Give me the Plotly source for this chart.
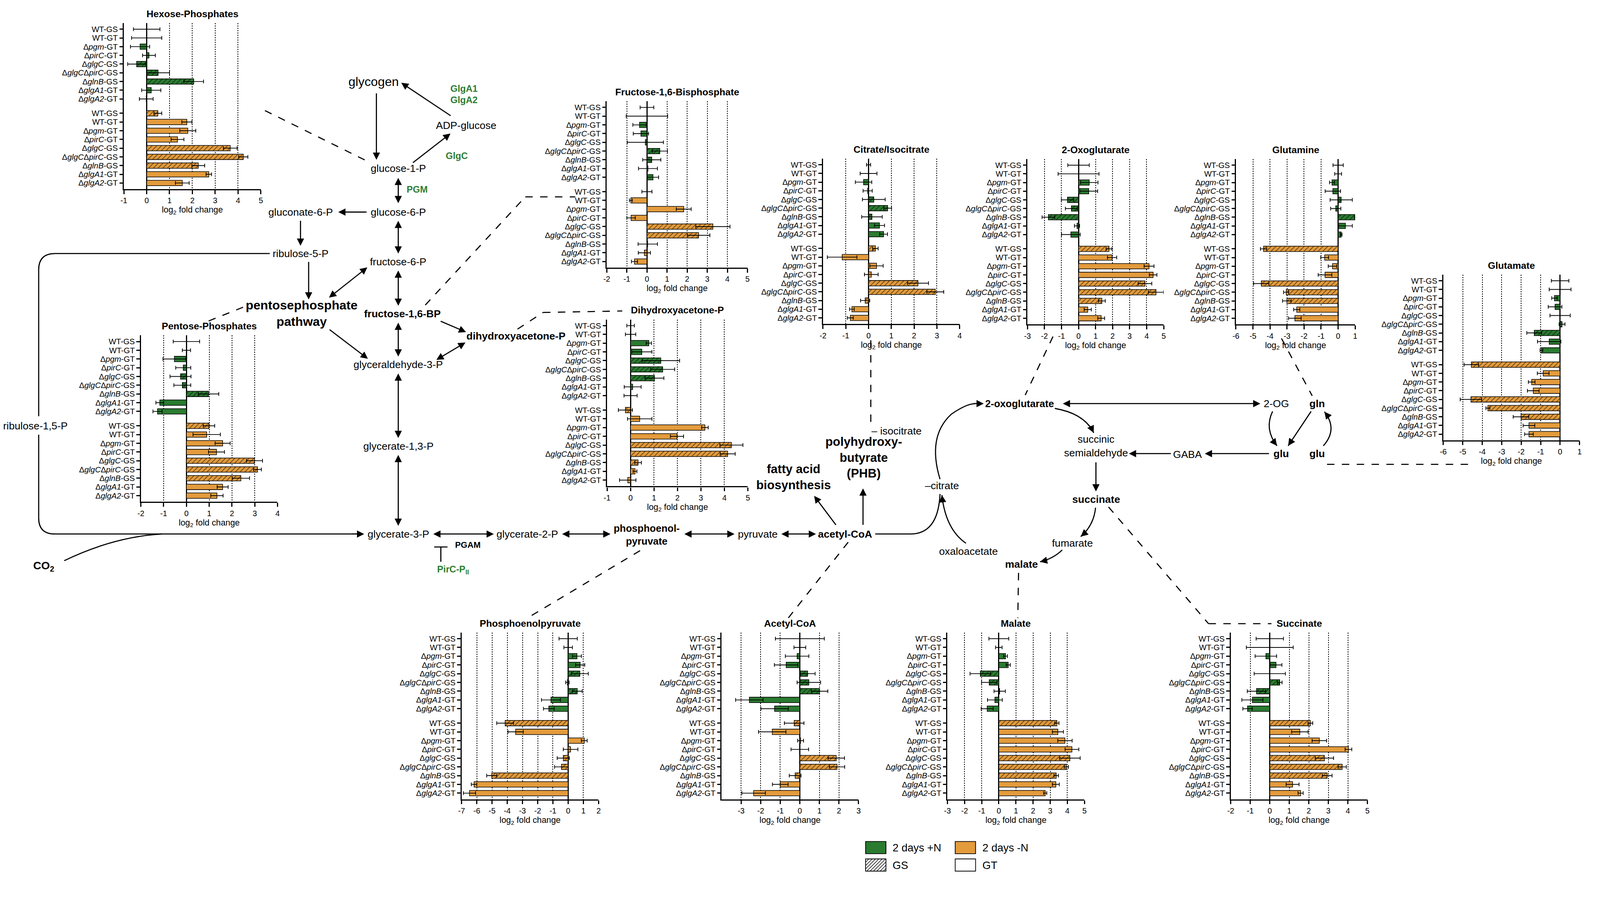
import plotly.graph_objects as go
import math

# ---------------- data ----------------
labels = ["WT-GS", "WT-GT", "Δ<i>pgm</i>-GT", "Δ<i>pirC</i>-GT", "Δ<i>glgC</i>-GS",
          "Δ<i>glgC</i>Δ<i>pirC</i>-GS", "Δ<i>glnB</i>-GS", "Δ<i>glgA1</i>-GT", "Δ<i>glgA2</i>-GT"]
hatch = ["/", "", "", "", "/", "/", "/", "", ""]

hexose_pos = [0, 0, -0.29, 0.10, -0.44, 0.50, 2.06, 0.20, -0.02]
hexose_pos_err = [0.58, 0.66, 0.42, 0.28, 0.39, 0.50, 0.43, 0.42, 0.30]
hexose_neg = [0.49, 1.76, 1.80, 1.35, 3.66, 4.23, 2.26, 2.72, 1.56]
hexose_neg_err = [0.17, 0.22, 0.35, 0.28, 0.30, 0.20, 0.28, 0.12, 0.30]

pentose_pos = [0, 0, -0.53, -0.14, -0.26, -0.18, 0.97, -1.17, -1.27]
pentose_pos_err = [0.58, 0.18, 0.50, 0.33, 0.46, 0.37, 0.45, 0.17, 0.20]
pentose_neg = [0.99, 0.89, 1.59, 1.32, 2.99, 3.12, 2.39, 1.59, 1.34]
pentose_neg_err = [0.25, 0.60, 0.33, 0.35, 0.35, 0.17, 0.38, 0.24, 0.27]

f16bp_pos = [0, 0, -0.37, -0.30, -0.08, 0.64, 0.24, 0.05, 0.30]
f16bp_pos_err = [0.34, 1.03, 0.33, 0.38, 0.90, 0.38, 0.45, 0.47, 0.28]
f16bp_neg = [0, -0.80, 1.83, -0.79, 3.28, 2.57, 0.04, -0.13, -0.62]
f16bp_neg_err = [0.25, 0.07, 0.37, 0.21, 0.85, 0.56, 0.48, 0.30, 0.15]

dhap_pos = [0, 0, 0.78, 0.48, 1.29, 1.37, 1.02, 0.09, 0]
dhap_pos_err = [0.16, 0.22, 0.11, 0.43, 0.80, 0.51, 0.40, 0.36, 0.28]
dhap_neg = [-0.22, 0.39, 3.17, 1.98, 4.30, 4.14, 0.32, 0.19, -0.12]
dhap_neg_err = [0.30, 0.52, 0.14, 0.28, 0.49, 0.32, 0.14, 0.08, 0.35]

citrate_pos = [0, 0, -0.22, -0.04, 0.23, 0.84, 0.15, 0.48, 0.66]
citrate_pos_err = [0.09, 0.37, 0.36, 0.20, 0.50, 0.17, 0.45, 0.22, 0.17]
citrate_neg = [0.30, -1.16, 0.35, 0.12, 2.17, 2.93, -0.15, -0.73, -0.80]
citrate_neg_err = [0.12, 0.65, 0.29, 0.30, 0.46, 0.37, 0.20, 0.10, 0.13]

oxo_pos = [0, 0, 0.63, 0.60, -0.65, -0.42, -1.77, -0.09, -0.45]
oxo_pos_err = [0.63, 1.20, 0.51, 0.52, 0.36, 0.35, 0.37, 0.15, 0.55]
oxo_neg = [1.79, 1.97, 4.14, 4.38, 3.90, 4.55, 1.37, 0.54, 1.33]
oxo_neg_err = [0.17, 0.27, 0.29, 0.22, 0.40, 0.45, 0.20, 0.21, 0.20]

gln_pos = [0, 0, -0.36, -0.31, 0.18, -0.14, 1.36, 0.43, 0.18]
gln_pos_err = [0.30, 0.20, 0.14, 0.45, 0.65, 0.30, 0.40, 0.40, 0.05]
gln_neg = [-4.38, -0.79, -0.33, -0.77, -4.51, -3.05, -3.01, -2.43, -2.54]
gln_neg_err = [0.18, 0.23, 0.25, 0.40, 0.45, 0.15, 0.25, 0.18, 0.37]

glu_pos = [0, 0, -0.29, -0.26, 0, 0.10, -1.33, -0.56, -0.96]
glu_pos_err = [0.45, 0.56, 0.14, 0.35, 0.52, 0.15, 0.38, 0.60, 0.07]
glu_neg = [-4.56, -0.87, -1.46, -1.38, -4.58, -3.71, -2.01, -1.60, -1.60]
glu_neg_err = [0.37, 0.30, 0.17, 0.30, 0.55, 0.10, 0.40, 0.30, 0.22]

pep_pos = [0, 0, 0.58, 0.79, 0.77, -0.05, 0.60, -1.13, -1.27]
pep_pos_err = [0.60, 0.28, 0.29, 0.30, 0.55, 0.11, 0.32, 0.62, 0.35]
pep_neg = [-4.14, -3.45, 1.06, 0.16, -0.32, -0.44, -5.02, -6.18, -6.48]
pep_neg_err = [0.55, 0.50, 0.19, 0.48, 0.40, 0.45, 0.33, 0.18, 0.40]

accoa_pos = [0, 0, -0.14, -0.70, 0.40, 0.46, 1.01, -2.58, -1.29]
accoa_pos_err = [1.25, 0.30, 0.60, 0.60, 0.38, 0.60, 0.42, 0.70, 0.70]
accoa_neg = [-0.29, -1.41, 0.04, 0, 1.86, 1.90, -0.24, -1.00, -2.36]
accoa_neg_err = [0.50, 0.70, 0.15, 0.45, 0.42, 0.39, 0.30, 0.40, 0.60]

malate_pos = [0, 0, 0.39, 0.55, -1.08, -0.56, 0.05, -0.23, -0.68]
malate_pos_err = [0.58, 0.19, 0.11, 0.12, 0.60, 0.45, 0.33, 0.43, 0.35]
malate_neg = [3.39, 3.45, 3.86, 4.27, 4.15, 3.94, 3.35, 3.33, 2.71]
malate_neg_err = [0.12, 0.32, 0.42, 0.40, 0.60, 0.12, 0.13, 0.20, 0.09]

succ_pos = [0, 0, -0.20, 0.32, 0, 0.51, -0.68, -0.89, -1.14]
succ_pos_err = [0.70, 1.20, 0.55, 0.30, 0.80, 0.12, 0.47, 0.54, 0.24]
succ_neg = [2.08, 1.54, 2.54, 4.03, 2.80, 3.71, 2.94, 1.17, 1.58]
succ_neg_err = [0.12, 0.42, 0.37, 0.17, 0.47, 0.21, 0.25, 0.33, 0.13]

# ---------------- styles / layout ----------------
W, H = 4290, 2352          # design frame (reference pixels)
S = 0.948                  # rendered size factor
FW, FH = round(W * S), round(H * S)
FONT = "Liberation Sans, Arial, sans-serif"
GREEN = "#2a7b30"
ORANGE = "#e39b3c"
TXTGREEN = "#2e7d32"
GAP = 9.65

def PX(x):
    return x / W

def PY(y):
    return 1 - y / H

def s(v):
    return v * S

# title, data, box (left,right,top,bottom px), range, tick range
panels = [
    ("Hexose-Phosphates", hexose_pos, hexose_pos_err, hexose_neg, hexose_neg_err, (326, 696, 54, 502), (-1, 5), (-1, 5)),
    ("Pentose-Phosphates", pentose_pos, pentose_pos_err, pentose_neg, pentose_neg_err, (372, 741, 897, 1346), (-2, 4), (-2, 4)),
    ("Fructose-1,6-Bisphosphate", f16bp_pos, f16bp_pos_err, f16bp_neg, f16bp_neg_err, (1630, 2010, 265, 714), (-2, 5), (-2, 5)),
    ("Dihydroxyacetone-P", dhap_pos, dhap_pos_err, dhap_neg, dhap_neg_err, (1631, 2011, 854, 1304), (-1, 5), (-1, 5)),
    ("Citrate/Isocitrate", citrate_pos, citrate_pos_err, citrate_neg, citrate_neg_err, (2214, 2583, 420, 866), (-2, 4), (-2, 4)),
    ("2-Oxoglutarate", oxo_pos, oxo_pos_err, oxo_neg, oxo_neg_err, (2766, 3134, 421, 867), (-3, 5), (-3, 5)),
    ("Glutamine", gln_pos, gln_pos_err, gln_neg, gln_neg_err, (3329, 3651, 421, 867), (-6, 1), (-6, 1)),
    ("Glutamate", glu_pos, glu_pos_err, glu_neg, glu_neg_err, (3889, 4257, 733, 1180), (-6, 1), (-6, 1)),
    ("Phosphoenolpyruvate", pep_pos, pep_pos_err, pep_neg, pep_neg_err, (1238, 1608, 1699, 2149), (-7, 2), (-7, 2)),
    ("Acetyl-CoA", accoa_pos, accoa_pos_err, accoa_neg, accoa_neg_err, (1940, 2310, 1699, 2149), (-4, 3), (-3, 3)),
    ("Malate", malate_pos, malate_pos_err, malate_neg, malate_neg_err, (2550, 2920, 1699, 2149), (-3, 5), (-3, 5)),
    ("Succinate", succ_pos, succ_pos_err, succ_neg, succ_neg_err, (3315, 3684, 1699, 2149), (-2, 5), (-2, 5)),
]

ypos_g = [float(k) for k in range(len(labels))]
ypos_o = [k + GAP for k in range(len(labels))]

fig = go.Figure()
layout = {}
annotations = []
shapes = []

for i, (title, gv, ge, ov, oe, box, rng, trng) in enumerate(panels, start=1):
    xa = "x" if i == 1 else f"x{i}"
    ya = "y" if i == 1 else f"y{i}"
    for vals, errs, ypos, col in ((gv, ge, ypos_g, GREEN), (ov, oe, ypos_o, ORANGE)):
        fig.add_trace(go.Bar(
            x=vals, y=ypos, orientation="h", width=0.62,
            marker=dict(color=col, line=dict(color="black", width=s(1.6)),
                        pattern=dict(shape=hatch, fillmode="overlay", fgcolor="black",
                                     size=s(9), solidity=0.25)),
            error_x=dict(type="data", array=errs, color="black", thickness=s(2), width=s(5)),
            xaxis=xa, yaxis=ya, cliponaxis=False, showlegend=False, hoverinfo="skip"))
    l, r, t, b = box
    tv = list(range(trng[0], trng[1] + 1))
    layout["xaxis" if i == 1 else f"xaxis{i}"] = dict(
        domain=[PX(l), PX(r)], range=list(rng), anchor=ya,
        tickmode="array", tickvals=tv, ticktext=[str(v) for v in tv],
        showline=True, linecolor="black", linewidth=s(3.5),
        ticks="outside", ticklen=s(10), tickwidth=s(3), tickcolor="black",
        showgrid=True, gridcolor="black", gridwidth=s(2.5), griddash="dot",
        zeroline=True, zerolinecolor="black", zerolinewidth=s(3),
        tickfont=dict(family=FONT, size=s(21), color="black"),
        title=dict(text="log<sub>2</sub> fold change", font=dict(family=FONT, size=s(23), color="black"), standoff=s(4)),
        automargin=False, fixedrange=True)
    layout["yaxis" if i == 1 else f"yaxis{i}"] = dict(
        domain=[PY(b), PY(t)], range=[ypos_o[-1] + 0.7, -0.7], anchor=xa,
        tickmode="array", tickvals=ypos_g + ypos_o, ticktext=labels + labels,
        showline=True, linecolor="black", linewidth=s(3),
        ticks="outside", ticklen=s(9), tickwidth=s(3), tickcolor="black",
        showgrid=False, zeroline=False,
        tickfont=dict(family=FONT, size=s(21.5), color="black"),
        automargin=False, fixedrange=True)
    annotations.append(dict(x=PX((l + r) / 2), y=PY(t - 25), xref="paper", yref="paper",
                            text=f"<b>{title}</b>", showarrow=False,
                            font=dict(family=FONT, size=s(26), color="black"),
                            xanchor="center", yanchor="middle"))

# ---------------- pathway diagram helpers ----------------
def text(x, y, txt, size=28, bold=False, color="black", anchor="center"):
    if bold:
        txt = f"<b>{txt}</b>"
    annotations.append(dict(x=PX(x), y=PY(y), xref="paper", yref="paper", text=txt,
                            showarrow=False, font=dict(family=FONT, size=s(size), color=color),
                            xanchor=anchor, yanchor="middle", align="center"))

def arrow(x0, y0, x1, y1, double=False):
    annotations.append(dict(x=PX(x1), y=PY(y1), xref="paper", yref="paper",
                            ax=s(x0 - x1), ay=s(y0 - y1), axref="pixel", ayref="pixel",
                            text="", showarrow=True, arrowhead=2, arrowsize=1.3,
                            arrowwidth=s(3), arrowcolor="black",
                            arrowside="end+start" if double else "end",
                            startarrowhead=2, startarrowsize=1.3,
                            standoff=0, startstandoff=0))

def line(x0, y0, x1, y1, dash=None, width=3):
    shapes.append(dict(type="line", xref="paper", yref="paper",
                       x0=PX(x0), y0=PY(y0), x1=PX(x1), y1=PY(y1),
                       line=dict(color="black", width=s(width), dash=dash)))

DASH = f"{s(20):.0f}px,{s(20):.0f}px"

def dashed(points):
    for (a, b), (c, d) in zip(points[:-1], points[1:]):
        line(a, b, c, d, dash=DASH, width=3)

def path(cmds, width=3):
    parts = []
    for c in cmds:
        op = c[0]
        coords = " ".join(f"{PX(x):.5f},{PY(y):.5f}" for x, y in c[1:])
        parts.append(f"{op} {coords}")
    shapes.append(dict(type="path", xref="paper", yref="paper", path=" ".join(parts),
                       line=dict(color="black", width=s(width))))

def curve_arrow(p0, c, p1, head=True):
    path([("M", p0), ("Q", c, p1)])
    if head:
        dx, dy = p1[0] - c[0], p1[1] - c[1]
        n = math.hypot(dx, dy)
        arrow(p1[0] - 22 * dx / n, p1[1] - 22 * dy / n, p1[0], p1[1])

# ---------------- glycolysis / glycogen ----------------
text(1000, 212, "glycogen", 34)
text(1245, 231, "GlgA1", 25, True, TXTGREEN)
text(1245, 262, "GlgA2", 25, True, TXTGREEN)
text(1250, 330, "ADP-glucose", 28)
text(1225, 412, "GlgC", 25, True, TXTGREEN)
text(1067, 446, "glucose-1-P", 28)
text(1118, 503, "PGM", 25, True, TXTGREEN)
text(1067, 564, "glucose-6-P", 28)
text(803, 564, "gluconate-6-P", 28)
text(803, 676, "ribulose-5-P", 28)
text(1067, 698, "fructose-6-P", 28)
text(806, 837, "pentosephosphate<br>pathway", 34, True)
text(1078, 839, "fructose-1,6-BP", 28, True)
text(1385, 899, "dihydroxyacetone-P", 28, True)
text(1067, 976, "glyceraldehyde-3-P", 28)
text(1067, 1196, "glycerate-1,3-P", 28)
text(87, 1141, "ribulose-1,5-P", 28)
text(1067, 1433, "glycerate-3-P", 28)
text(1255, 1462, "PGAM", 23, True)
text(1215, 1530, "PirC-P<sub>II</sub>", 25, True, TXTGREEN)
text(1416, 1433, "glycerate-2-P", 28)
text(1738, 1435, "phosphoenol-<br>pyruvate", 27, True)
text(2038, 1433, "pyruvate", 28)
text(2274, 1433, "acetyl-CoA", 28, True)
text(2134, 1279, "fatty acid<br>biosynthesis", 33, True)
text(2324, 1227, "polyhydroxy-<br>butyrate<br>(PHB)", 33, True)
text(110, 1520, "CO<sub>2</sub>", 30, True)

arrow(1008, 242, 1008, 423)
arrow(1210, 305, 1075, 215)
arrow(1105, 432, 1208, 352)
arrow(1067, 470, 1067, 540, True)
arrow(983, 564, 905, 564)
arrow(803, 586, 803, 655)
arrow(825, 697, 825, 800)
arrow(1067, 586, 1067, 676, True)
arrow(985, 712, 880, 795, True)
arrow(1067, 720, 1067, 817, True)
arrow(880, 880, 985, 960)
arrow(1067, 861, 1067, 954, True)
arrow(1180, 858, 1250, 888)
arrow(1250, 915, 1170, 963, True)
arrow(1067, 998, 1067, 1174, True)
arrow(1067, 1218, 1067, 1411, True)
arrow(1160, 1433, 1325, 1433, True)
line(1182, 1508, 1182, 1468)
line(1164, 1468, 1200, 1468)
arrow(1508, 1433, 1640, 1433, True)
arrow(1838, 1433, 1975, 1433, True)
arrow(2100, 1433, 2195, 1433, True)
arrow(2250, 1410, 2190, 1330)
arrow(2322, 1410, 2322, 1310)

# ribulose loop and CO2
path([("M", (720, 676)), ("L", (140, 676)), ("Q", (96, 676), (96, 720)), ("L", (96, 1115))])
path([("M", (96, 1165)), ("L", (96, 1390)), ("Q", (96, 1433), (140, 1433)), ("L", (960, 1433))])
arrow(940, 1433, 975, 1433)
path([("M", (165, 1505)), ("Q", (300, 1440), (430, 1433))])

# acetyl-CoA to citrate
path([("M", (2355, 1433)), ("L", (2450, 1433)), ("Q", (2525, 1433), (2530, 1325))])

# ---------------- TCA ----------------
text(2745, 1081, "2-oxoglutarate", 27, True)
text(2412, 1155, "– isocitrate", 28)
text(2535, 1303, "–citrate", 28)
text(2951, 1196, "succinic<br>semialdehyde", 28)
text(3198, 1218, "GABA", 28)
text(3438, 1081, "2-OG", 28)
text(3548, 1081, "gln", 28, True)
text(3451, 1216, "glu", 28, True)
text(3548, 1216, "glu", 28, True)
text(2951, 1339, "succinate", 28, True)
text(2888, 1458, "fumarate", 28)
text(2607, 1480, "oxaloacetate", 28)
text(2750, 1515, "malate", 28, True)

path([("M", (2530, 1285)), ("Q", (2495, 1170), (2560, 1110)), ("Q", (2600, 1082), (2625, 1081))])
arrow(2620, 1081, 2648, 1081)
arrow(2860, 1081, 3395, 1081, True)
curve_arrow((2840, 1094), (2920, 1108), (2945, 1160))
arrow(2951, 1238, 2951, 1318)
curve_arrow((2950, 1362), (2945, 1410), (2910, 1440))
curve_arrow((2860, 1476), (2835, 1500), (2800, 1508))
curve_arrow((2600, 1458), (2545, 1420), (2535, 1328))
curve_arrow((3428, 1102), (3405, 1150), (3440, 1195))
curve_arrow((3532, 1102), (3500, 1150), (3470, 1195))
curve_arrow((3565, 1195), (3605, 1150), (3568, 1103))
arrow(3420, 1216, 3245, 1216)
arrow(3155, 1216, 3040, 1216)

# ---------------- dashed connectors ----------------
dashed([(707, 290), (990, 430)])
dashed([(555, 858), (650, 820)])
dashed([(1140, 815), (1410, 523), (1545, 523)])
dashed([(1389, 880), (1458, 835), (1672, 831)])
dashed([(2343, 910), (2343, 1140)])
dashed([(2835, 900), (2760, 1058)])
dashed([(3452, 905), (3535, 1060)])
dashed([(3575, 1245), (3975, 1245)])
dashed([(1720, 1478), (1412, 1662)])
dashed([(2282, 1455), (2120, 1660)])
dashed([(2742, 1538), (2740, 1660)])
dashed([(2985, 1360), (3255, 1675), (3425, 1675)])

# ---------------- legend ----------------
def rect(x0, y0, x1, y1, fill):
    shapes.append(dict(type="rect", xref="paper", yref="paper",
                       x0=PX(x0), y0=PY(y1), x1=PX(x1), y1=PY(y0),
                       fillcolor=fill, line=dict(color="black", width=s(2))))

rect(2329, 2263, 2384, 2296, GREEN)
rect(2571, 2263, 2626, 2296, ORANGE)
rect(2329, 2310, 2384, 2343, "white")
rect(2571, 2310, 2626, 2343, "white")
hx0, hx1, hy0, hy1 = 2329, 2384, 2310, 2343
hh = hy1 - hy0
u = hx0 - hh
while u < hx1:
    t0 = max(0.0, (hx0 - u) / hh)
    t1 = min(1.0, (hx1 - u) / hh)
    if t1 > t0:
        line(u + t0 * hh, hy1 - t0 * hh, u + t1 * hh, hy1 - t1 * hh, width=1.5)
    u += 9
text(2400, 2280, "2 days +N", 29, anchor="left")
text(2642, 2280, "2 days -N", 29, anchor="left")
text(2400, 2327, "GS", 29, anchor="left")
text(2642, 2327, "GT", 29, anchor="left")

layout.update(dict(
    width=FW, height=FH, autosize=False,
    margin=dict(l=0, r=0, t=0, b=0),
    paper_bgcolor="white", plot_bgcolor="white",
    font=dict(family=FONT, color="black"),
    showlegend=False, barmode="overlay",
    annotations=annotations, shapes=shapes))
fig.update_layout(**layout)
fig.write_html("out.html")
